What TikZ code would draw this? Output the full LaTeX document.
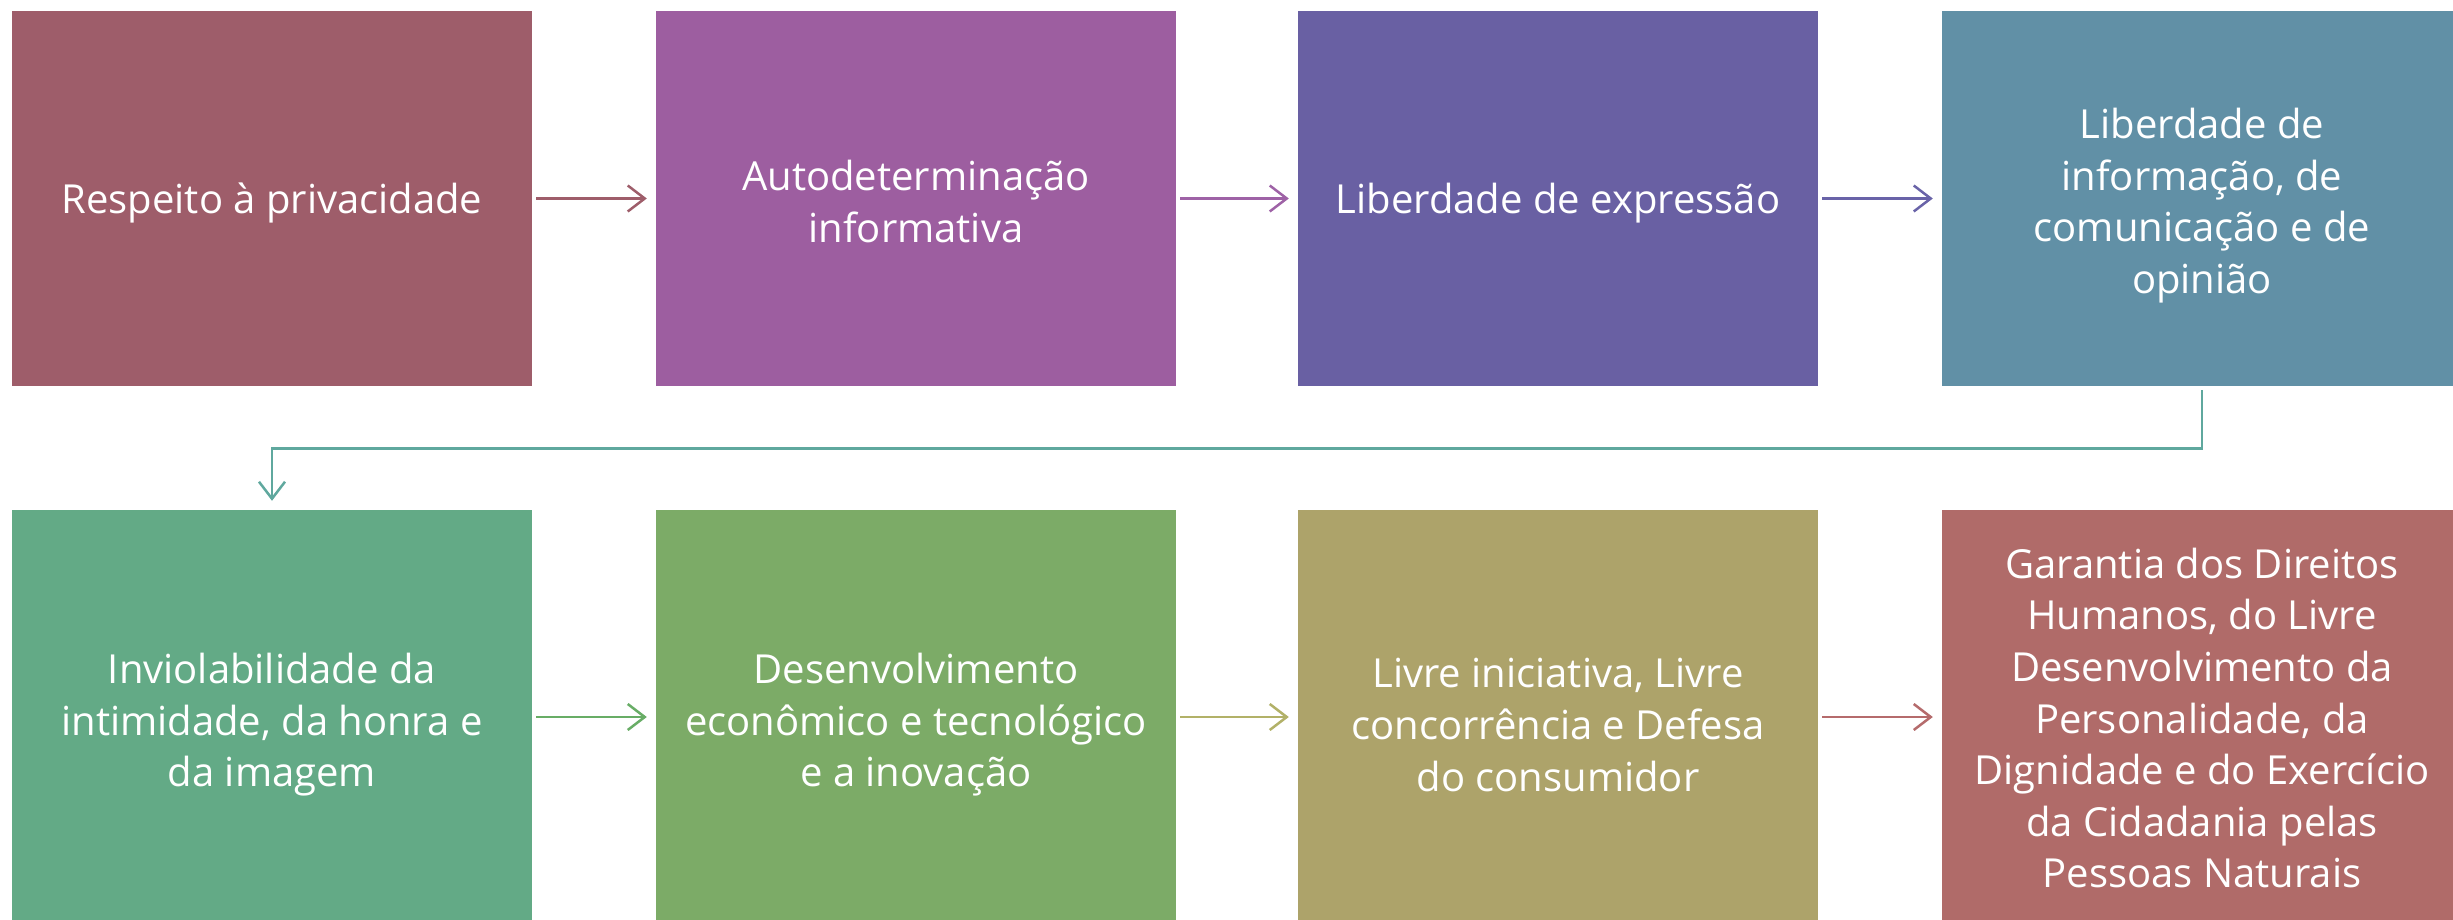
\documentclass[tikz,border=0pt]{standalone}
\usepackage{fontspec}
\setmainfont{Open Sans}
\usetikzlibrary{arrows.meta}
\definecolor{cA}{HTML}{9E5D6A}
\definecolor{cB}{HTML}{9D5EA0}
\definecolor{cC}{HTML}{6960A3}
\definecolor{cD}{HTML}{6190A6}
\definecolor{cE}{HTML}{63AA86}
\definecolor{cF}{HTML}{7CAB67}
\definecolor{cG}{HTML}{ADA36A}
\definecolor{cH}{HTML}{B06B69}
\definecolor{aA}{HTML}{9E5D6A}
\definecolor{aB}{HTML}{9E62A6}
\definecolor{aC}{HTML}{6963A8}
\definecolor{aD}{HTML}{5FA89E}
\definecolor{aE}{HTML}{68AD66}
\definecolor{aF}{HTML}{B2B168}
\definecolor{aG}{HTML}{B56B6C}
\tikzset{
  box/.style={rectangle, inner sep=0pt, minimum width=520pt},
  boxA/.style={box, minimum height=375pt},
  boxB/.style={box, minimum height=414pt},
  txt/.style={inner sep=0pt, text=white, align=center,
    font=\fontsize{40}{51.6}\selectfont},
  conn/.style={line width=2.5pt, -{Straight Barb[length=17pt,width=26pt]},
    shorten <=4pt, shorten >=9pt},
}
\begin{document}
\begin{tikzpicture}[x=1pt,y=-1pt]
\useasboundingbox (0,0) rectangle (2453,920);
\fill[white] (0,0) rectangle (2453,920);
\clip (0,0) rectangle (2453,920);
\node[boxA, fill=cA] (b1) at (272,198.5) {};
\node[boxA, fill=cB] (b2) at (916,198.5) {};
\node[boxA, fill=cC] (b3) at (1558,198.5) {};
\node[boxA, fill=cD] (b4) at (2202,198.5) {};
\node[boxB, fill=cE] (b5) at (272,717) {};
\node[boxB, fill=cF] (b6) at (916,717) {};
\node[boxB, fill=cG] (b7) at (1558,717) {};
\node[boxB, fill=cH] (b8) at (2202,717) {};
\node[txt] (t1) at ([yshift=-4pt]b1.center) {Respeito à privacidade};
\node[txt] (t2) at ([yshift=-3pt]b2.center) {Autodeterminação\\informativa};
\node[txt] (t3) at ([yshift=-5pt]b3.center) {Liberdade de expressão};
\node[txt] (t4) at ([yshift=-7pt]b4.center) {Liberdade de\\informação, de\\comunicação e de\\opinião};
\node[txt] (t5) at ([yshift=-8pt]b5.center) {Inviolabilidade da\\intimidade, da honra e\\da imagem};
\node[txt] (t6) at ([yshift=-8pt]b6.center) {Desenvolvimento\\econômico e tecnológico\\e a inovação};
\node[txt] (t7) at ([yshift=-8pt]b7.center) {Livre iniciativa, Livre\\concorrência e Defesa\\do consumidor};
\node[txt] (t8) at ([yshift=-1pt]b8.center) {Garantia dos Direitos\\Humanos, do Livre\\Desenvolvimento da\\Personalidade, da\\Dignidade e do Exercício\\da Cidadania pelas\\Pessoas Naturais};
\draw[conn, aA] (b1) -- (b2);
\draw[conn, aB] (b2) -- (b3);
\draw[conn, aC] (b3) -- (b4);
\draw[conn, aD] (b4.south) -- ++(0,62.5) -| (b5.north);
\draw[conn, aE] (b5) -- (b6);
\draw[conn, aF] (b6) -- (b7);
\draw[conn, aG] (b7) -- (b8);
\end{tikzpicture}
\end{document}
